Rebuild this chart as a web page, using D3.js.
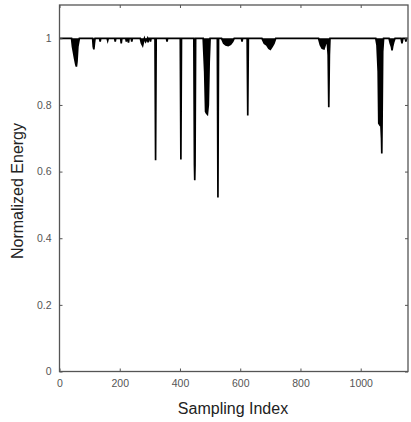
<!DOCTYPE html>
<html>
<head>
<meta charset="utf-8">
<script src="https://cdn.jsdelivr.net/npm/d3@7"></script>
<style>
body { margin: 0; background: #fff; }
text { font-family: "Liberation Sans", Arial, sans-serif; }
</style>
</head>
<body>
<div id="chart"></div>
<script>
// breakpoints of the energy trace (baseline is 1, dips)
var sampleIndex = [0, 40, 43, 46, 50, 54, 56, 58, 61, 64, 66,
	110, 112, 114, 116, 118, 133, 135, 137, 158, 160, 162, 183, 185, 187,
	203, 205, 207, 220, 222, 224, 227, 229, 231, 238, 240, 242,
	268, 272, 276, 279, 282, 286, 292, 294, 296, 300, 302, 304,
	317, 319, 321, 355, 357, 359, 401, 403, 405,
	446, 448, 449, 450, 452, 477, 479, 482, 485, 488, 491, 494, 497, 500,
	524, 526, 528, 538, 545, 552, 560, 568, 575, 580,
	604, 606, 608, 623, 625, 627,
	672, 680, 688, 695, 700, 706, 712, 718,
	860, 866, 872, 878, 884, 889, 892, 894, 896, 898,
	1050, 1054, 1058, 1060, 1064, 1067, 1069, 1070, 1071, 1073, 1076,
	1094, 1098, 1102, 1104, 1106, 1110, 1114, 1134, 1137, 1140, 1148, 1150, 1152, 1157];
var energy = [1, 1, 0.975, 0.96, 0.94, 0.922, 0.915, 0.93, 0.975, 0.99, 1,
	1, 0.975, 0.967, 0.985, 1, 1, 0.99, 1, 1, 0.993, 1, 1, 0.99, 1,
	1, 0.985, 1, 1, 0.99, 1, 1, 0.987, 1, 1, 0.99, 1,
	1, 0.985, 0.978, 0.99, 1, 0.99, 1, 0.988, 1, 1, 0.99, 1,
	1, 0.634, 1, 1, 0.99, 1, 1, 0.636, 1,
	1, 0.62, 0.574, 0.62, 1, 1, 0.96, 0.9, 0.78, 0.775, 0.772, 0.8, 0.93, 1,
	1, 0.522, 1, 1, 0.985, 0.98, 0.978, 0.982, 0.99, 1,
	1, 0.99, 1, 1, 0.768, 1,
	1, 0.985, 0.98, 0.97, 0.967, 0.975, 0.985, 1,
	1, 0.98, 0.97, 0.968, 0.985, 0.99, 0.95, 0.793, 0.95, 1,
	1, 0.98, 0.9, 0.745, 0.739, 0.74, 0.7, 0.654, 0.75, 0.96, 1,
	1, 0.985, 0.975, 0.964, 0.975, 0.99, 1, 1, 0.985, 1, 1, 0.99, 1, 1];
var xTicks = [0, 200, 400, 600, 800, 1000];
var yTicks = [0, 0.2, 0.4, 0.6, 0.8, 1];

var width = 411,
	height = 422;
var plotLeft = 59.5, plotRight = 408, plotTop = 5, plotBottom = 371.5;

var data = sampleIndex.map(function(d, i){
	return {x: d, y: energy[i]};
});

var xScale = d3.scaleLinear()
	.domain([0, 1157])
	.range([plotLeft, plotRight]);

var yScale = d3.scaleLinear()
	.domain([0, 1.1])
	.range([plotBottom, plotTop]);

var svg = d3.select("#chart").append("svg")
	.attr("width", width)
	.attr("height", height);

// filled dips between baseline and trace
var area = d3.area()
	.x(function(d){ return xScale(d.x); })
	.y0(yScale(1))
	.y1(function(d){ return yScale(d.y); });

svg.append("path")
	.datum(data)
	.attr("d", area)
	.attr("fill", "#000");

var line = d3.line()
	.x(function(d){ return xScale(d.x); })
	.y(function(d){ return yScale(d.y); });

svg.append("path")
	.datum(data)
	.attr("d", line)
	.attr("fill", "none")
	.attr("stroke", "#000")
	.attr("stroke-width", 1.7);

// axes with inward ticks, mirrored on top and right
svg.append("g")
	.attr("transform", "translate(0," + plotBottom + ")")
	.call(d3.axisBottom(xScale).tickValues(xTicks).tickSize(-3).tickPadding(8)
		.tickFormat(d3.format("d")))
	.call(function(g){ g.select(".domain").remove(); });

svg.append("g")
	.attr("transform", "translate(0," + plotTop + ")")
	.call(d3.axisTop(xScale).tickValues(xTicks).tickSize(-3).tickFormat(""))
	.call(function(g){ g.select(".domain").remove(); });

svg.append("g")
	.attr("transform", "translate(" + plotLeft + ",0)")
	.call(d3.axisLeft(yScale).tickValues(yTicks).tickSize(-3).tickPadding(8)
		.tickFormat(function(d){ return String(d); }))
	.call(function(g){ g.select(".domain").remove(); });

svg.append("g")
	.attr("transform", "translate(" + plotRight + ",0)")
	.call(d3.axisRight(yScale).tickValues(yTicks).tickSize(-3).tickFormat(""))
	.call(function(g){ g.select(".domain").remove(); });

svg.selectAll(".tick line").attr("stroke", "#555");
svg.selectAll(".tick text")
	.attr("fill", "#555")
	.style("font-size", "10.5px");

svg.append("rect")
	.attr("x", plotLeft)
	.attr("y", plotTop)
	.attr("width", plotRight - plotLeft)
	.attr("height", plotBottom - plotTop)
	.attr("fill", "none")
	.attr("stroke", "#555")
	.attr("stroke-width", 1.3);

svg.append("text")
	.attr("x", 233)
	.attr("y", 414)
	.attr("text-anchor", "middle")
	.style("font-size", "16px")
	.attr("fill", "#222")
	.text("Sampling Index");

svg.append("text")
	.attr("transform", "translate(23,191) rotate(-90)")
	.attr("text-anchor", "middle")
	.style("font-size", "16px")
	.attr("fill", "#222")
	.text("Normalized Energy");
</script>
</body>
</html>
